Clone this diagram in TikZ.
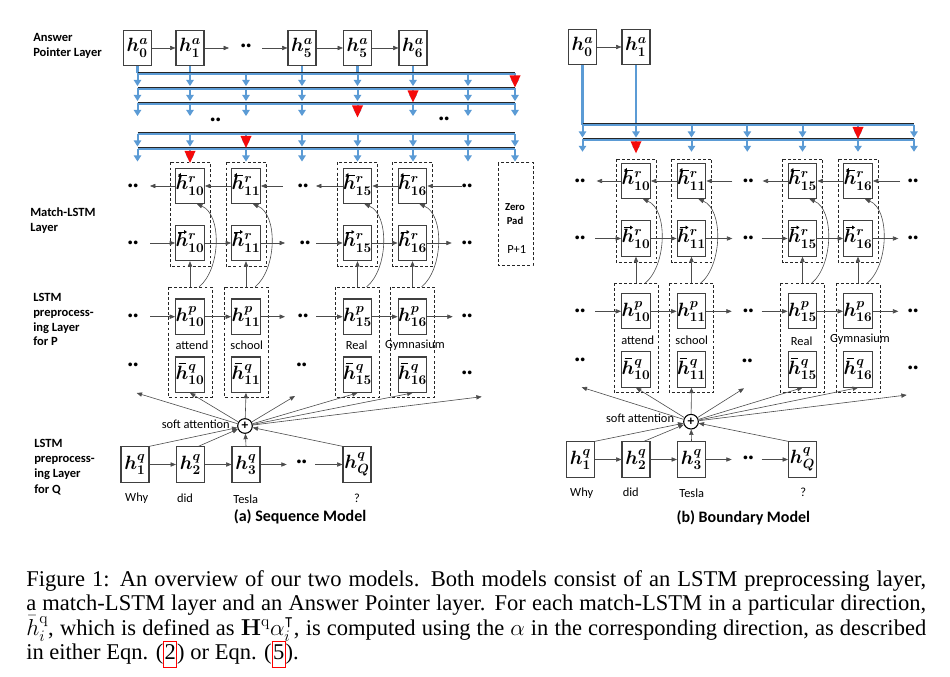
\documentclass[tikz,border=0pt]{standalone}
\usepackage{amsmath,amssymb}
\usepackage{graphicx}
\usepackage[no-math]{fontspec}
\setmainfont{Carlito}
\newfontfamily\capfont{Liberation Serif}
\usetikzlibrary{arrows.meta,calc}
\definecolor{pblue}{RGB}{91,155,213}
\definecolor{pred}{RGB}{245,10,10}
\newcommand{\lk}[1]{{\color{red}\fboxsep=0.4pt\fboxrule=0.6pt\fbox{\color{black}\strut#1}}}
\newcommand{\redtri}[2]{\fill[pred] (#1-5.5,#2+2) -- (#1+5.5,#2+2) -- (#1,#2+14) -- cycle;}
\tikzset{
  hbox/.style={draw=black!75, line width=0.8pt, minimum width=21pt, minimum height=26.5pt, inner sep=0pt, font=\fontsize{14}{14}\selectfont\boldmath},
  dbox/.style={draw=black!85, line width=0.6pt, dash pattern=on 2.2pt off 1.6pt},
  arr/.style={-{Triangle[length=4pt,width=3.2pt]}, line width=0.45pt, draw=black!70},
  acc/.style={line width=0.7pt, draw=black, -{Triangle[length=2.2pt,width=2.8pt]}},
  accbar/.style={line width=0.8pt, draw=black},
  dots/.style={font=\fontsize{15}{15}\selectfont\bfseries, inner sep=0pt},
  lbl/.style={font=\fontsize{9.4}{11}\selectfont\bfseries, anchor=base west, inner sep=0pt},
  word/.style={font=\fontsize{9.3}{11}\selectfont, inner sep=0pt},
  bline/.style={draw=pblue, line width=2pt},
  barr/.style={draw=pblue, line width=1.5pt, -{Triangle[length=4.5pt,width=5.5pt]}},
  sumc/.style={circle, draw=black, line width=0.8pt, minimum size=11pt, inner sep=0pt, font=\fontsize{10}{10}\selectfont\bfseries},
  ttl/.style={font=\fontsize{12}{13}\selectfont\bfseries, inner sep=0pt},
  capl/.style={anchor=base west, inner sep=0pt, font=\capfont\fontsize{16.9}{18.2}\selectfont},
}
\begin{document}
\begin{tikzpicture}[x=0.75pt,y=-0.75pt]
\useasboundingbox (0,0) rectangle (950,677);
\fill[white] (0,0) rectangle (950,677);
% ---------------- left side labels
\node[lbl] (tA1) at (33,41.5) {Answer};
\node[lbl] (tA2) at (33,57) {Pointer Layer};
\node[lbl] (tM1) at (30,216.7) {Match-LSTM};
\node[lbl] (tM2) at (30,231.7) {Layer};
\node[lbl] (tP1) at (33,302) {LSTM};
\node[lbl] (tP2) at (33,316.7) {preprocess-};
\node[lbl] (tP3) at (33,331.5) {ing Layer};
\node[lbl] (tP4) at (33,346) {for P};
\node[lbl] (tQ1) at (34,447.3) {LSTM};
\node[lbl] (tQ2) at (34,462) {preprocess-};
\node[lbl] (tQ3) at (34,477) {ing Layer};
\node[lbl] (tQ4) at (34,493) {for Q};
% ================= (a) Sequence model
\node[hbox] (La0) at (137.5,48) {$h^{a}_{0}$};
\node[hbox] (La1) at (190,48) {$h^{a}_{1}$};
\node[dots] (Lad) at (246,48) {··};
\node[hbox] (La5) at (302,48) {$h^{a}_{5}$};
\node[hbox] (La5b) at (357.5,48) {$h^{a}_{5}$};
\node[hbox] (La6) at (413,48) {$h^{a}_{6}$};
\coordinate (Lax1) at (229,48); \coordinate (Lax2) at (262,48);
\draw[arr] (La0) -- (La1);
\draw[arr] (La1) -- (Lax1);
\draw[arr] (Lax2) -- (La5);
\draw[arr] (La5) -- (La5b);
\draw[arr] (La5b) -- (La6);
\coordinate (LL1) at (0,73.5);
\foreach \n in {La0,La1,La5,La5b,La6} \draw[bline] (\n.south) -- (\n.south |- LL1);
\foreach \y in {73.5,88.5,103.5,134,149}{
  \draw[bline] (137.5,\y) -- (515,\y);
  \draw[black!85, line width=0.45pt] (137.5,\y-1.4) -- (515,\y-1.4);
  \foreach \c in {137.5,190,246,302,357.5,413,468,515}
    \draw[barr] (\c,\y) -- (\c,\y+12.5);
}
\redtri{515}{73.5}
\redtri{413}{88.5}
\redtri{357.5}{103.5}
\redtri{246}{134}
\redtri{190}{149}
\node[dots] (Lgd1) at (215.5,121.7) {··};
\node[dots] (Lgd2) at (444,120.7) {··};
% match-LSTM and preprocessing columns
\foreach \c/\n in {190/10,246/11,357.5/15,412.5/16}{
  \node[hbox] (Lrb\n) at (\c,186) {$h^{r}_{\n}$};
  \draw[acc] ($(Lrb\n.center)+(-3,-11)$) -- ++(-9,0);
  \node[hbox] (Lrf\n) at (\c,243) {$h^{r}_{\n}$};
  \draw[acc] ($(Lrf\n.center)+(-12,-11)$) -- ++(9,0);
  \draw[dbox] (\c-20,162.5) rectangle (\c+20,266.5);
  \node[hbox] (Lp\n) at (\c,316.7) {$h^{p}_{\n}$};
  \node[hbox] (Lq\n) at (\c,374.7) {$h^{q}_{\n}$};
  \draw[accbar] ($(Lq\n.center)+(-11.5,-11)$) -- ++(7,0);
  \draw[dbox] (\c-22,287) rectangle (\c+22,397);
  \coordinate (Ld\n) at (\c,287);
  \coordinate (Le\n) at (\c+9,287);
  \draw[arr] (Ld\n) -- (Lrf\n.south);
  \draw[arr] (Le\n) .. controls +(22,-18) and +(25,10) .. ($(Lrb\n.south)+(7,0)$);
}
\draw[dbox] (498,162.7) rectangle (533,265);
\node[font=\fontsize{8}{11}\selectfont\bfseries, align=center, inner sep=0pt] (zp) at (515,214) {Zero\\Pad};
\node[word] (zp1) at (516.7,250) {P+1};
% backward row
\coordinate (Lb1) at (150,186); \coordinate (Lb2) at (282.7,186);
\coordinate (Lb3) at (316,186); \coordinate (Lb4) at (461.7,186);
\draw[arr] (Lrb10) -- (Lb1);
\draw[arr] (Lrb11) -- (Lrb10);
\draw[arr] (Lb2) -- (Lrb11);
\draw[arr] (Lrb15) -- (Lb3);
\draw[arr] (Lrb16) -- (Lrb15);
\draw[arr] (Lb4) -- (Lrb16);
\node[dots] (Lbd1) at (133,187.7) {··};
\node[dots] (Lbd2) at (303,187.7) {··};
\node[dots] (Lbd3) at (467,187.7) {··};
% forward row
\coordinate (Lf1) at (150,243); \coordinate (Lf2) at (285,243);
\coordinate (Lf3) at (316,243); \coordinate (Lf4) at (451.7,243);
\draw[arr] (Lf1) -- (Lrf10);
\draw[arr] (Lrf10) -- (Lrf11);
\draw[arr] (Lrf11) -- (Lf2);
\draw[arr] (Lf3) -- (Lrf15);
\draw[arr] (Lrf15) -- (Lrf16);
\draw[arr] (Lrf16) -- (Lf4);
\node[dots] (Lfd1) at (133,245) {··};
\node[dots] (Lfd2) at (305,245) {··};
\node[dots] (Lfd3) at (467,245) {··};
% P row
\coordinate (Lpp1) at (150,316.7); \coordinate (Lpp2) at (285,316.7);
\coordinate (Lpp3) at (316,316.7); \coordinate (Lpp4) at (452.7,316.7);
\draw[arr] (Lpp1) -- (Lp10);
\draw[arr] (Lp10) -- (Lp11);
\draw[arr] (Lp11) -- (Lpp2);
\draw[arr] (Lpp3) -- (Lp15);
\draw[arr] (Lp15) -- (Lp16);
\draw[arr] (Lp16) -- (Lpp4);
\node[dots] (Lpd1) at (133,318) {··};
\node[dots] (Lpd2) at (303,318) {··};
\node[dots] (Lpd3) at (467,318) {··};
\node[dots] (Lqd1) at (133,367) {··};
\node[dots] (Lqd2) at (301.7,367) {··};
\node[dots] (Lqd3) at (467,375) {··};
\node[word] (Lw1) at (192,345.7) {attend};
\node[word] (Lw2) at (246.7,345.7) {school};
\node[word] (Lw3) at (356.7,345.7) {Real};
\node[word] (Lw4) at (415,345) {Gymnasium};
% soft attention
\node[sumc] (cL) at (245,426) {+};
\node[word, anchor=east] (Lsa) at (230,424.3) {soft attention};
\coordinate (Lo1) at (136.7,393); \coordinate (Lo2) at (295,396); \coordinate (Lo3) at (481.7,396.7);
\draw[arr] (cL) -- (Lo1);
\draw[arr] (cL) -- (Lq10.south);
\draw[arr] (cL) -- (Lq11.south);
\draw[arr] (cL) -- (Lo2);
\draw[arr] (cL) -- (Lq15.south);
\draw[arr] (cL) -- (Lq16.south);
\draw[arr] (cL) -- (Lo3);
% question row
\node[hbox] (Lhq1) at (135,464.5) {$h^{q}_{1}$};
\node[hbox] (Lhq2) at (190.5,464.5) {$h^{q}_{2}$};
\node[hbox] (Lhq3) at (246,464.5) {$h^{q}_{3}$};
\node[dots] (Lhqd) at (301.7,464) {··};
\node[hbox] (LhqQ) at (357,464.5) {$h^{q}_{Q}$};
\coordinate (Lh1) at (286.7,464.5); \coordinate (Lh2) at (315,464.5);
\draw[arr] (Lhq1) -- (Lhq2);
\draw[arr] (Lhq2) -- (Lhq3);
\draw[arr] (Lhq3) -- (Lh1);
\draw[arr] (Lh2) -- (LhqQ);
\draw[arr] (Lhq1.north east) -- (cL);
\draw[arr] ($(Lhq2.north)+(8,0)$) -- (cL);
\draw[arr] (Lhq3.north) -- (cL);
\draw[arr] (LhqQ.north west) -- (cL);
\node[word] (Lx1) at (136.7,498.3) {Why};
\node[word] (Lx2) at (185,498) {did};
\node[word] (Lx3) at (245.7,499) {Tesla};
\node[word] (Lx4) at (357,498) {?};
\node[ttl] (Ltt) at (300,517) {(a) Sequence Model};
% ================= (b) Boundary model
\node[hbox] (Ra0) at (582.5,47) {$h^{a}_{0}$};
\node[hbox] (Ra1) at (636,47) {$h^{a}_{1}$};
\draw[arr] (Ra0) -- (Ra1);
\coordinate (RL1) at (0,125);
\foreach \n in {Ra0,Ra1} \draw[bline] (\n.south) -- (\n.south |- RL1);
\foreach \y in {125,139.3}{
  \draw[bline] (582.5,\y) -- (914,\y);
  \draw[black!85, line width=0.45pt] (582.5,\y-1.4) -- (914,\y-1.4);
  \foreach \c in {582.5,636,691.5,747.3,802.5,858,914}
    \draw[barr] (\c,\y) -- (\c,\y+12.5);
}
\redtri{858}{125}
\redtri{636}{139.3}
\foreach \c/\n in {636/10,691.5/11,802.5/15,858/16}{
  \node[hbox] (Rrb\n) at (\c,181) {$h^{r}_{\n}$};
  \draw[acc] ($(Rrb\n.center)+(-3,-11)$) -- ++(-9,0);
  \node[hbox] (Rrf\n) at (\c,238.5) {$h^{r}_{\n}$};
  \draw[acc] ($(Rrf\n.center)+(-12,-11)$) -- ++(9,0);
  \draw[dbox] (\c-20,159) rectangle (\c+20,262.7);
  \node[hbox] (Rp\n) at (\c,311.3) {$h^{p}_{\n}$};
  \node[hbox] (Rq\n) at (\c,369.5) {$h^{q}_{\n}$};
  \draw[accbar] ($(Rq\n.center)+(-11.5,-11)$) -- ++(7,0);
  \draw[dbox] (\c-22,283.3) rectangle (\c+22,392.7);
  \coordinate (Rd\n) at (\c,283.3);
  \coordinate (Re\n) at (\c+9,283.3);
  \draw[arr] (Rd\n) -- (Rrf\n.south);
  \draw[arr] (Re\n) .. controls +(22,-18) and +(25,10) .. ($(Rrb\n.south)+(7,0)$);
}
\coordinate (Rb1) at (596.7,181); \coordinate (Rb2) at (732.3,181);
\coordinate (Rb3) at (762.7,181); \coordinate (Rb4) at (900,181);
\draw[arr] (Rrb10) -- (Rb1);
\draw[arr] (Rrb11) -- (Rrb10);
\draw[arr] (Rb2) -- (Rrb11);
\draw[arr] (Rrb15) -- (Rb3);
\draw[arr] (Rrb16) -- (Rrb15);
\draw[arr] (Rb4) -- (Rrb16);
\node[dots] (Rbd1) at (580,182.3) {··};
\node[dots] (Rbd2) at (748.3,182.3) {··};
\node[dots] (Rbd3) at (913,182.3) {··};
\coordinate (Rf1) at (595,238.5); \coordinate (Rf2) at (732.3,238.5);
\coordinate (Rf3) at (761.7,238.5); \coordinate (Rf4) at (898.3,238.5);
\draw[arr] (Rf1) -- (Rrf10);
\draw[arr] (Rrf10) -- (Rrf11);
\draw[arr] (Rrf11) -- (Rf2);
\draw[arr] (Rf3) -- (Rrf15);
\draw[arr] (Rrf15) -- (Rrf16);
\draw[arr] (Rrf16) -- (Rf4);
\node[dots] (Rfd1) at (580,240) {··};
\node[dots] (Rfd2) at (748.3,240) {··};
\node[dots] (Rfd3) at (913,240) {··};
\coordinate (Rpp1) at (595,311.3); \coordinate (Rpp2) at (731.7,311.3);
\coordinate (Rpp3) at (761.7,311.3); \coordinate (Rpp4) at (898.3,311.3);
\draw[arr] (Rpp1) -- (Rp10);
\draw[arr] (Rp10) -- (Rp11);
\draw[arr] (Rp11) -- (Rpp2);
\draw[arr] (Rpp3) -- (Rp15);
\draw[arr] (Rp15) -- (Rp16);
\draw[arr] (Rp16) -- (Rpp4);
\node[dots] (Rpd1) at (580,313) {··};
\node[dots] (Rpd2) at (748.3,313) {··};
\node[dots] (Rpd3) at (913,313) {··};
\node[dots] (Rqd1) at (580,361.7) {··};
\node[dots] (Rqd2) at (747.3,363) {··};
\node[dots] (Rqd3) at (913,369.3) {··};
\node[word] (Rw1) at (637.7,340) {attend};
\node[word] (Rw2) at (691.7,340) {school};
\node[word] (Rw3) at (801.7,341) {Real};
\node[word] (Rw4) at (860,339.3) {Gymnasium};
\node[sumc] (cR) at (691,421.7) {+};
\node[word, anchor=east] (Rsa) at (674.3,418.3) {soft attention};
\coordinate (Ro1) at (581.7,387.3); \coordinate (Ro2) at (744,388.3); \coordinate (Ro3) at (906.7,395);
\draw[arr] (cR) -- (Ro1);
\draw[arr] (cR) -- (Rq10.south);
\draw[arr] (cR) -- (Rq11.south);
\draw[arr] (cR) -- (Ro2);
\draw[arr] (cR) -- (Rq15.south);
\draw[arr] (cR) -- (Rq16.south);
\draw[arr] (cR) -- (Ro3);
\node[hbox] (Rhq1) at (580.5,459.5) {$h^{q}_{1}$};
\node[hbox] (Rhq2) at (636,459.5) {$h^{q}_{2}$};
\node[hbox] (Rhq3) at (691.5,459.5) {$h^{q}_{3}$};
\node[dots] (Rhqd) at (748.3,460) {··};
\node[hbox] (RhqQ) at (802.5,459.5) {$h^{q}_{Q}$};
\coordinate (Rh1) at (731.7,459.5); \coordinate (Rh2) at (761.7,459.5);
\draw[arr] (Rhq1) -- (Rhq2);
\draw[arr] (Rhq2) -- (Rhq3);
\draw[arr] (Rhq3) -- (Rh1);
\draw[arr] (Rh2) -- (RhqQ);
\draw[arr] (Rhq1.north east) -- (cR);
\draw[arr] ($(Rhq2.north)+(8,0)$) -- (cR);
\draw[arr] (Rhq3.north) -- (cR);
\draw[arr] (RhqQ.north west) -- (cR);
\node[word] (Rx1) at (581.7,493.3) {Why};
\node[word] (Rx2) at (630.7,492.3) {did};
\node[word] (Rx3) at (691.7,493.3) {Tesla};
\node[word] (Rx4) at (803.3,492.3) {?};
\node[ttl] (Rtt) at (743.3,518.3) {(b) Boundary Model};
% ================= caption
\node[capl] (cap1) at (26,586.7) {\makebox[675pt][s]{Figure 1: An overview of our two models. Both models consist of an LSTM preprocessing layer,}};
\node[capl] (cap2) at (26,610.7) {\makebox[675pt][s]{a match-LSTM layer and an Answer Pointer layer. For each match-LSTM in a particular direction,}};
\node[capl] (cap3) at (26,635) {\makebox[675pt][s]{$\bar{h}_i^{\mathrm{q}}$, which is defined as $\mathbf{H}^{\mathrm{q}}\alpha_i^{\intercal}$, is computed using the $\alpha$ in the corresponding direction, as described}};
\node[capl] (cap4) at (26,659.3) {in either Eqn. (\lk{2}) or Eqn. (\lk{5}).};
\end{tikzpicture}
\end{document}
